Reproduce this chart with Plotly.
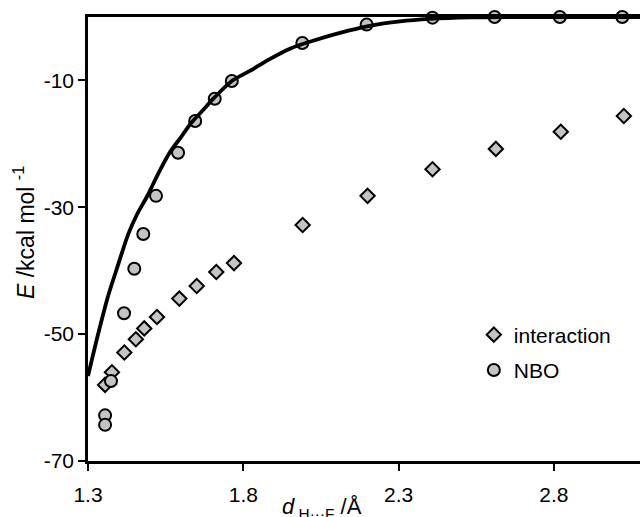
import plotly.graph_objects as go

# H···F distance (Å) and energies (kcal/mol)
d_interaction = [1.355, 1.377, 1.417, 1.454, 1.481, 1.522, 1.594, 1.650, 1.713, 1.770,
                 1.991, 2.200, 2.409, 2.613, 2.822, 3.025]
e_interaction = [-58.0, -56.0, -52.9, -50.8, -49.1, -47.3, -44.4, -42.4, -40.2, -38.8,
                 -32.8, -28.2, -24.0, -20.8, -18.1, -15.6]

d_nbo = [1.355, 1.355, 1.374, 1.416, 1.449, 1.478, 1.519, 1.590, 1.645, 1.708, 1.763,
         1.990, 2.197, 2.409, 2.609, 2.819, 3.020]
e_nbo = [-62.8, -64.3, -57.4, -46.7, -39.7, -34.2, -28.2, -21.4, -16.4, -12.9, -10.1,
         -4.1, -1.2, -0.1, 0.0, 0.0, 0.0]

# smooth curve through the NBO energies
d_curve = [1.300, 1.332, 1.364, 1.396, 1.429, 1.458, 1.490, 1.525, 1.564, 1.599, 1.634,
           1.670, 1.705, 1.763, 1.821, 1.879, 1.950, 2.014, 2.111, 2.207, 2.304, 2.401,
           2.529, 2.690, 3.077]
e_curve = [-56.6, -50.1, -44.1, -39.2, -34.3, -31.1, -28.3, -24.8, -21.3, -18.96, -16.6,
           -14.7, -12.8, -10.1, -8.5, -6.8, -5.0, -3.9, -2.5, -1.4, -0.7, -0.3,
           -0.05, 0.0, 0.0]

x_ticks = [1.3, 1.8, 2.3, 2.8]
y_ticks = [-70, -50, -30, -10]

FONT = "Liberation Sans, Arial, sans-serif"
FILL = "#c4c4c4"

fig = go.Figure()

fig.add_trace(go.Scatter(
    x=d_interaction, y=e_interaction, mode="markers", name="interaction",
    legendgroup="a",
    marker=dict(symbol="diamond", size=11, color=FILL,
                line=dict(color="black", width=2)),
    cliponaxis=False,
))
fig.add_trace(go.Scatter(
    x=d_nbo, y=e_nbo, mode="markers", name="NBO",
    legendgroup="b",
    marker=dict(symbol="circle", size=12, color=FILL,
                line=dict(color="black", width=2)),
    cliponaxis=False,
))
fig.add_trace(go.Scatter(
    x=d_curve, y=e_curve, mode="lines", name="fit", showlegend=False,
    line=dict(color="black", width=3.8, shape="spline", smoothing=0.8),
    cliponaxis=False,
))

fig.update_layout(
    width=640, height=517,
    margin=dict(l=88, r=0, t=17, b=56),
    paper_bgcolor="white", plot_bgcolor="white",
    font=dict(family=FONT, size=21, color="black"),
    showlegend=True,
    legend=dict(
        x=0.699, y=0.33, xanchor="left", yanchor="top",
        bgcolor="rgba(0,0,0,0)", font=dict(size=21),
        traceorder="grouped", tracegroupgap=5,
        itemwidth=30,
    ),
    xaxis=dict(
        range=[1.3, 3.077], tickvals=x_ticks, ticktext=[f"{v:.1f}" for v in x_ticks],
        showgrid=False, zeroline=False,
        showline=True, linecolor="black", linewidth=2.5, mirror=True,
        ticks="outside", ticklen=7, tickwidth=2, tickcolor="black",
        tickfont=dict(size=21), ticklabelstandoff=6,
    ),
    yaxis=dict(
        range=[-70, 0], tickvals=y_ticks, ticktext=[str(v) for v in y_ticks],
        showgrid=False, zeroline=False,
        showline=True, linecolor="black", linewidth=2.5, mirror=False,
        ticks="outside", ticklen=7, tickwidth=2, tickcolor="black",
        tickfont=dict(size=21),
    ),
)

# axis titles
fig.add_annotation(
    text="<i>E</i> /kcal mol <sup>-1</sup>", textangle=-90,
    xref="paper", yref="paper", x=(24 - 88) / 552, y=(461 - 233) / 444,
    xanchor="center", yanchor="middle", showarrow=False,
    font=dict(size=23),
)
fig.add_annotation(
    text="<i>d</i><sub> H···F</sub> /Å",
    xref="paper", yref="paper", x=(322 - 88) / 552, y=(461 - 508) / 444,
    xanchor="center", yanchor="middle", showarrow=False,
    font=dict(size=22),
)

fig.write_html("out.html")
